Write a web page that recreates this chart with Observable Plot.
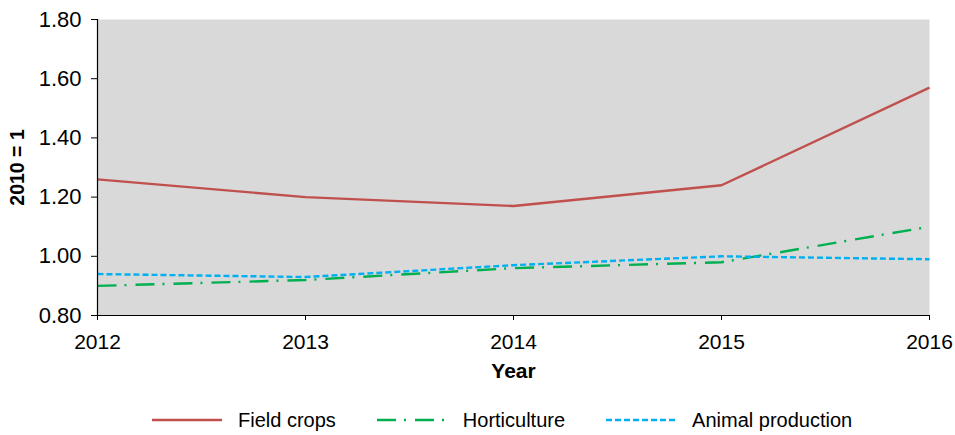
<!DOCTYPE html>
<html>
<head>
<meta charset="utf-8">
<script src="https://cdn.jsdelivr.net/npm/d3@7"></script>
<script src="https://cdn.jsdelivr.net/npm/@observablehq/plot@0.6"></script>
<style>
  body { margin: 0; background: #fff; font-family: "Liberation Sans", Arial, sans-serif; }
  #chart svg text { fill: #000; }
  #legend { display: flex; justify-content: flex-start; align-items: center; height: 30px; font-size: 20px; color: #000; padding-left: 152px; }
  #legend .item { display: flex; align-items: center; margin-right: 41px; }
  #legend svg { margin-right: 16px; }
</style>
</head>
<body>
<div id="chart"></div>
<div id="legend"></div>
<script>
const years = [2012, 2013, 2014, 2015, 2016];
const fieldCrops = [1.26, 1.20, 1.17, 1.24, 1.57];
const horticulture = [0.90, 0.92, 0.96, 0.98, 1.10];
const animalProduction = [0.94, 0.93, 0.97, 1.00, 0.99];
const yTicks = [0.8, 1.0, 1.2, 1.4, 1.6, 1.8];

const seriesDefs = [
  {name: "Field crops", values: fieldCrops, color: "#c0504d", dash: null},
  {name: "Horticulture", values: horticulture, color: "#00b050", dash: "19,8,2,9"},
  {name: "Animal production", values: animalProduction, color: "#00b0f0", dash: "6,3"}
];

const toRows = s => years.map((y, i) => ({year: y, value: s.values[i]}));

const chart = Plot.plot({
  width: 955,
  height: 405,
  marginLeft: 97,
  marginRight: 26,
  marginTop: 19,
  marginBottom: 90,
  style: {fontFamily: "Liberation Sans, Arial, sans-serif", fontSize: "20px", color: "#000", background: "#fff"},
  x: {domain: [2012, 2016]},
  y: {domain: [0.8, 1.8]},
  marks: [
    Plot.frame({fill: "#d9d9d9", stroke: null}),
    ...seriesDefs.map(s => Plot.line(toRows(s), {
      x: "year", y: "value", stroke: s.color, strokeWidth: 2.4,
      strokeDasharray: s.dash, strokeLinecap: "butt"
    })),
    Plot.ruleX([2012], {stroke: "#000", strokeWidth: 1.2}),
    Plot.ruleY([0.8], {stroke: "#000", strokeWidth: 1.2}),
    Plot.axisY({ticks: yTicks, tickFormat: d => d.toFixed(2), tickSize: 6, tickPadding: 10,
      label: "2010 = 1", labelAnchor: "center", labelArrow: "none", labelOffset: 87}),
    Plot.axisX({ticks: years, tickFormat: d => String(d), tickSize: 5, tickPadding: 14,
      label: "Year", labelAnchor: "center", labelArrow: "none", labelOffset: 62})
  ]
});
document.getElementById("chart").appendChild(chart);
chart.querySelectorAll("g[aria-label='y-axis tick label'] text").forEach(t => { t.style.fontSize = "22px"; });
chart.querySelectorAll("g[aria-label='x-axis tick label'] text").forEach(t => { t.style.fontSize = "21px"; });
chart.querySelectorAll("g[aria-label='x-axis label'] text").forEach(t => {
  t.style.fontWeight = "bold"; t.style.fontSize = "21px";
});
chart.querySelectorAll("g[aria-label='y-axis label'] text").forEach(t => {
  t.style.fontWeight = "bold"; t.style.fontSize = "19.5px";
});

const legend = document.getElementById("legend");
seriesDefs.forEach(s => {
  const item = document.createElement("div");
  item.className = "item";
  const ns = "http://www.w3.org/2000/svg";
  const svg = document.createElementNS(ns, "svg");
  svg.setAttribute("width", 70);
  svg.setAttribute("height", 10);
  const line = document.createElementNS(ns, "line");
  line.setAttribute("x1", 0); line.setAttribute("x2", 70);
  line.setAttribute("y1", 5); line.setAttribute("y2", 5);
  line.setAttribute("stroke", s.color);
  line.setAttribute("stroke-width", 2.4);
  if (s.dash) line.setAttribute("stroke-dasharray", s.dash);
  svg.appendChild(line);
  const span = document.createElement("span");
  span.textContent = s.name;
  item.appendChild(svg);
  item.appendChild(span);
  legend.appendChild(item);
});
</script>
</body>
</html>
